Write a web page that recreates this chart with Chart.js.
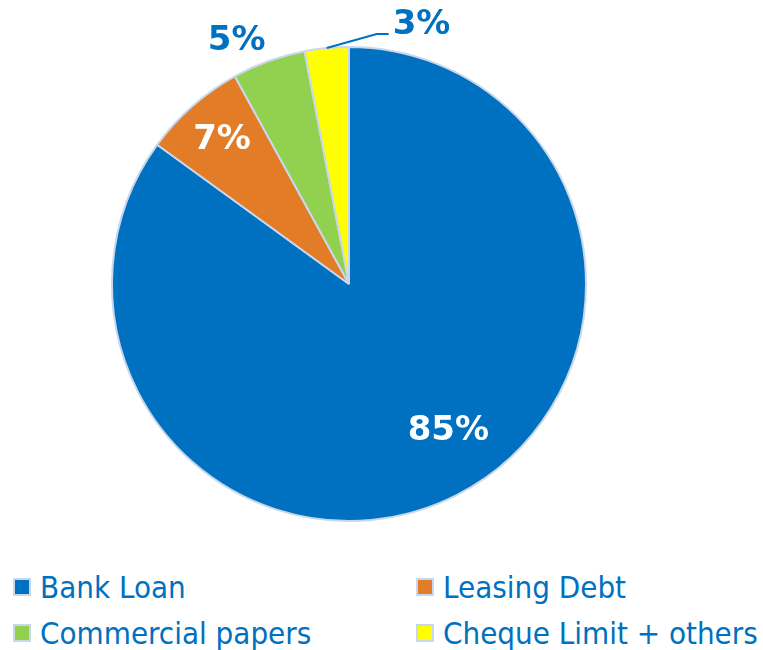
<!DOCTYPE html>
<html>
<head>
<meta charset="utf-8">
<script src="https://cdn.jsdelivr.net/npm/chart.js@4"></script>
<style>
  html, body { margin: 0; padding: 0; background: #fff; }
  #wrap { position: relative; width: 763px; height: 650px; overflow: hidden; }
  #pie { position: absolute; left: 0; top: 0; }
  #legend {
    position: absolute; left: 13px; top: 564px;
    display: grid; grid-template-columns: 403px auto; grid-auto-rows: 46px;
    font-family: "DejaVu Sans Condensed", "DejaVu Sans", sans-serif;
    font-stretch: condensed; font-size: 31px; color: #0070C0;
  }
  .item { display: flex; align-items: center; white-space: nowrap; }
  .box { width: 14px; height: 14px; border: 2px solid #C9D7EC; margin-right: 9px; }
</style>
</head>
<body>
<div id="wrap">
  <canvas id="pie" width="763" height="560"></canvas>
  <div id="legend"></div>
</div>
<script>
// ─── Data ────────────────────────────────────────────────────────────────────

const categories = ["Bank Loan", "Leasing Debt", "Commercial papers", "Cheque Limit + others"];
const shares = [85, 7, 5, 3];
const sliceColors = ["#0070C0", "#E27C26", "#92D050", "#FFFF00"];

// label look: colour, distance from centre (x radius), nudge in degrees
const labelColors = ["#FFFFFF", "#FFFFFF", "#0070C0", "#0070C0"];
const labelRadius = [0.75, 0.81, 1.13, 1.0];
const labelShift = [-7, 0, -5, 0];
const leaderLine = [false, false, false, true];

// ─── Legend (two columns, like the original) ─────────────────────────────────

const legendEl = document.getElementById("legend");
legendEl.innerHTML = categories
  .map((c, i) =>
    `<div class="item"><span class="box" style="background:${sliceColors[i]}"></span>${c}</div>`)
  .join("");

// ─── Percent labels drawn on top of the arcs ─────────────────────────────────

const pctLabels = {
  id: "pctLabels",
  afterDatasetsDraw(chart) {
    const ctx = chart.ctx;
    const arcs = chart.getDatasetMeta(0).data;
    ctx.save();
    ctx.font = "bold 34px 'DejaVu Sans', sans-serif";
    arcs.forEach((arc, i) => {
      const p = arc.getProps(["x", "y", "startAngle", "endAngle", "outerRadius"], true);
      const text = shares[i] + "%";
      const mid = (p.startAngle + p.endAngle) / 2 + labelShift[i] * Math.PI / 180;
      ctx.fillStyle = labelColors[i];
      if (leaderLine[i]) {
        const ex = p.x + Math.cos(mid) * p.outerRadius;
        const ey = p.y + Math.sin(mid) * p.outerRadius;
        ctx.strokeStyle = labelColors[i];
        ctx.lineWidth = 2;
        ctx.beginPath();
        ctx.moveTo(ex, ey);
        ctx.lineTo(ex + 50, ey - 14);
        ctx.lineTo(ex + 62, ey - 14);
        ctx.stroke();
        ctx.textAlign = "left";
        ctx.textBaseline = "alphabetic";
        ctx.fillText(text, ex + 66, ey - 14);
      } else {
        const r = p.outerRadius * labelRadius[i];
        ctx.textAlign = "center";
        ctx.textBaseline = "middle";
        ctx.fillText(text, p.x + Math.cos(mid) * r, p.y + Math.sin(mid) * r);
      }
    });
    ctx.restore();
  }
};

// ─── Chart ───────────────────────────────────────────────────────────────────

new Chart(document.getElementById("pie"), {
  type: "pie",
  data: {
    labels: categories,
    datasets: [{
      data: shares,
      backgroundColor: sliceColors,
      borderColor: "#C9D7EC",
      borderWidth: 2,
    }],
  },
  options: {
    responsive: false,
    animation: false,
    layout: { padding: { top: 46, bottom: 38, left: 111, right: 176 } },
    plugins: {
      legend: { display: false },
      tooltip: { enabled: false },
    },
  },
  plugins: [pctLabels],
});
</script>
</body>
</html>
